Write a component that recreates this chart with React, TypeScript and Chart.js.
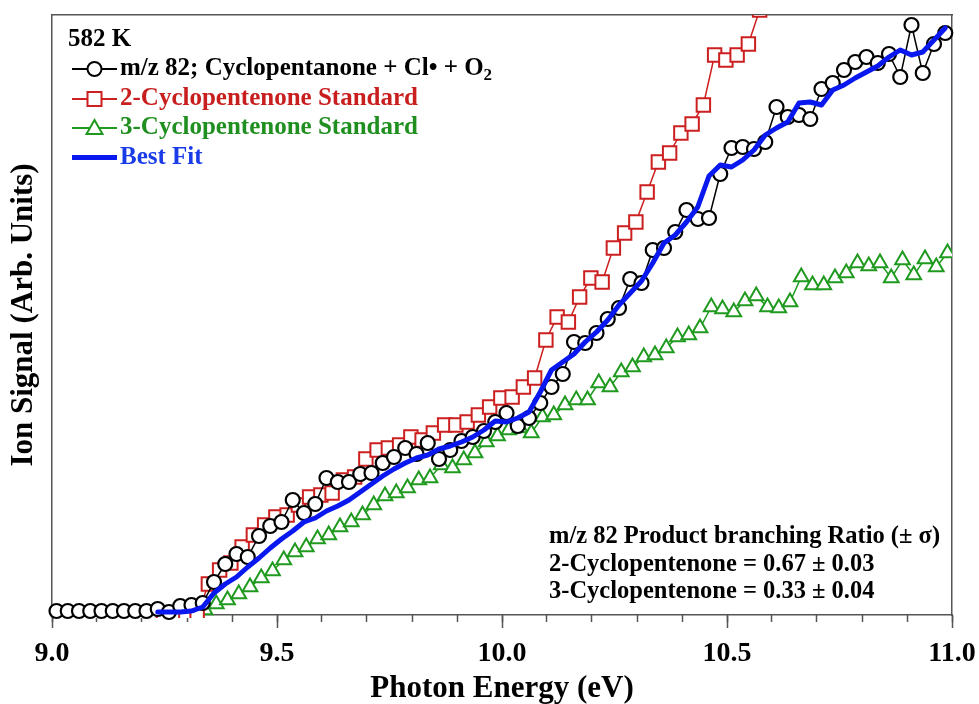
import React, { useEffect, useRef } from 'react';
import { Chart, registerables } from 'chart.js';

Chart.register(...registerables);

const FONT = '"Liberation Serif", "Times New Roman", serif';

// Photon energy grid (eV)
const ENERGY_STEP = 0.025;
const MZ82_START = 9.01;
const CYC2_START = 9.0225;
const CYC3_START = 9.19;
const FIT_START = 9.235;

// m/z 82; Cyclopentanone + Cl + O2
const mz82Signal = [
  7, 7, 7, 7, 7, 7, 7, 7, 7,
  9, 6, 12, 13, 15, 36, 54, 64, 61, 82, 92,
  96, 118, 105, 114, 140, 136, 136, 144, 145, 155,
  161, 170, 164, 175, 159, 168, 177, 181, 187, 196,
  205, 192, 200, 215, 231, 244, 276, 275, 285, 299,
  310, 339, 335, 368, 370, 386, 408, 399, 400, 444,
  470, 471, 469, 476, 511, 501, 503, 499, 529, 535,
  548, 556, 561, 555, 564, 541, 593, 545, 574, 585,
];

// 2-Cyclopentenone standard
const cyc2Signal = [
  2, 2, 2, 2, 2, 2, 2, 2, 2, 2, 2, 2, 2,
  34, 48, 55, 71, 83, 93,
  101, 103, 113, 121, 123, 125, 138, 141, 159, 168,
  170, 173, 181, 178, 185, 193, 193, 196, 203, 211,
  220, 221, 231, 240, 278, 301, 296, 321, 340, 336,
  370, 385, 396, 426, 456, 465, 485, 494, 513, 563,
  558, 563, 574, 608, 643,
];

// 3-Cyclopentenone standard
const cyc3Signal = [
  2, 2, 2, 2, 2,
  4, 8, 14, 18, 24, 31, 40, 47,
  58, 66, 71, 79, 83, 91, 96, 103, 113, 122,
  125, 130, 138, 140, 153, 150, 158, 165, 176, 182,
  188, 190, 185, 201, 203, 213, 218, 218, 235, 231,
  246, 251, 261, 263, 270, 281, 283, 290, 311, 309,
  306, 317, 322, 311, 310, 316, 341, 333, 333, 340,
  345, 355, 352, 355, 340, 358, 343, 359, 351, 365,
];

// Best fit
const bestFitSignal = [
  6, 6, 6, 7, 11, 25, 34, 41, 51, 60, 70,
  79, 87, 96, 100, 107, 112, 118, 126, 134, 142,
  149, 155, 160, 163, 169, 172, 176, 181, 188, 197,
  196, 200, 206, 226, 248, 256, 264, 276, 286, 298,
  313, 325, 337, 355, 375, 383, 396, 411, 442, 453,
  451, 458, 468, 483, 490, 496, 515, 516, 513, 528,
  533, 540, 546, 552, 561, 568, 563, 566, 578, 590,
];

const majorTicks = [9.0, 9.5, 10.0, 10.5, 11.0];
const minorTicks = [
  9.0, 9.1, 9.2, 9.3, 9.4, 9.5, 9.6, 9.7, 9.8, 9.9, 10.0,
  10.1, 10.2, 10.3, 10.4, 10.5, 10.6, 10.7, 10.8, 10.9, 11.0,
];

const legendTitle = '582 K';
const seriesLabels = [
  'm/z 82; Cyclopentanone + Cl• + O',
  '2-Cyclopentenone Standard',
  '3-Cyclopentenone Standard',
  'Best Fit',
];
const ratioLines = [
  'm/z 82 Product branching Ratio (± σ)',
  '2-Cyclopentenone = 0.67 ± 0.03',
  '3-Cyclopentenone = 0.33 ± 0.04',
];

const COLORS = {
  black: '#000000',
  red: '#cc1f1f',
  green: '#1f9a1f',
  blue: '#0a18f0',
  redText: '#c81e1e',
  greenText: '#1f8f1f',
  blueText: '#1a3ce8',
  frame: '#555555',
};

const toPoints = (start: number, values: number[]) =>
  values.map((y, i) => ({ x: +(start + i * ENERGY_STEP).toFixed(4), y }));

const textPlugin = {
  id: 'textOverlay',
  afterDraw(chart: any) {
    const ctx: CanvasRenderingContext2D = chart.ctx;
    ctx.save();
    ctx.textBaseline = 'middle';
    ctx.textAlign = 'left';
    const f = `bold 25px ${FONT}`;
    ctx.font = f;
    ctx.fillStyle = COLORS.black;
    ctx.fillText(legendTitle, 68, 40);

    const rowY = [69, 99, 128, 157.5];
    const lineColors = [COLORS.black, COLORS.red, COLORS.green, COLORS.blue];
    const textColors = [COLORS.black, COLORS.redText, COLORS.greenText, COLORS.blueText];
    const x0 = 72, x1 = 117, xc = 94.5;
    rowY.forEach((y, i) => {
      ctx.strokeStyle = lineColors[i];
      ctx.lineWidth = i === 3 ? 5 : 2;
      ctx.beginPath();
      ctx.moveTo(x0, y);
      ctx.lineTo(x1, y);
      ctx.stroke();
      ctx.fillStyle = '#ffffff';
      ctx.lineWidth = 2;
      if (i === 0) {
        ctx.beginPath();
        ctx.arc(xc, y, 7, 0, Math.PI * 2);
        ctx.fill();
        ctx.stroke();
      } else if (i === 1) {
        ctx.beginPath();
        ctx.rect(xc - 7, y - 7, 14, 14);
        ctx.fill();
        ctx.stroke();
      } else if (i === 2) {
        ctx.beginPath();
        ctx.moveTo(xc, y - 8);
        ctx.lineTo(xc + 8, y + 6);
        ctx.lineTo(xc - 8, y + 6);
        ctx.closePath();
        ctx.fill();
        ctx.stroke();
      }
      ctx.font = f;
      ctx.fillStyle = textColors[i];
      ctx.fillText(seriesLabels[i], 120, y);
      if (i === 0) {
        const w = ctx.measureText(seriesLabels[i]).width;
        ctx.font = `bold 17px ${FONT}`;
        ctx.fillText('2', 120 + w, y + 7);
      }
    });

    ctx.font = `bold 24.5px ${FONT}`;
    ctx.fillStyle = COLORS.black;
    const ry = [537, 565, 592];
    ratioLines.forEach((t, i) => ctx.fillText(t, 549, ry[i]));
    ctx.restore();
  },
};

export default function App() {
  const ref = useRef<HTMLCanvasElement | null>(null);
  useEffect(() => {
    if (!ref.current) return;
    const markerClip = { left: 0, top: 0, right: 0, bottom: 3 };
    const chart = new Chart(ref.current, {
      type: 'line',
      data: {
        datasets: [
          {
            label: seriesLabels[0],
            data: toPoints(MZ82_START, mz82Signal),
            borderColor: COLORS.black,
            borderWidth: 1.5,
            pointStyle: 'circle',
            pointRadius: 7,
            pointBorderWidth: 2.2,
            pointBackgroundColor: '#ffffff',
            pointBorderColor: COLORS.black,
            tension: 0,
            order: 1,
            clip: 10,
          } as any,
          {
            label: seriesLabels[1],
            data: toPoints(CYC2_START, cyc2Signal),
            borderColor: COLORS.red,
            borderWidth: 1.5,
            pointStyle: 'rect',
            pointRadius: 9.5,
            pointBorderWidth: 2,
            pointBackgroundColor: '#ffffff',
            pointBorderColor: COLORS.red,
            tension: 0,
            order: 2,
            clip: markerClip,
          } as any,
          {
            label: seriesLabels[2],
            data: toPoints(CYC3_START, cyc3Signal),
            borderColor: COLORS.green,
            borderWidth: 1.5,
            pointStyle: 'triangle',
            pointRadius: 8.5,
            pointBorderWidth: 2,
            pointBackgroundColor: '#ffffff',
            pointBorderColor: COLORS.green,
            tension: 0,
            order: 3,
            clip: markerClip,
          } as any,
          {
            label: seriesLabels[3],
            data: toPoints(FIT_START, bestFitSignal),
            borderColor: COLORS.blue,
            borderWidth: 5,
            pointRadius: 0,
            borderJoinStyle: 'round',
            borderCapStyle: 'round',
            tension: 0,
            order: 0,
          } as any,
        ],
      },
      options: {
        responsive: false,
        animation: false,
        layout: { padding: { left: 0, top: 15, right: 27, bottom: 0 } },
        plugins: { legend: { display: false }, tooltip: { enabled: false } },
        scales: {
          x: {
            type: 'linear',
            position: 'bottom',
            min: 9,
            max: 11,
            weight: 1,
            afterBuildTicks: (s: any) => { s.ticks = majorTicks.map((v) => ({ value: v })); },
            ticks: {
              callback: (v: any) => Number(v).toFixed(1),
              font: { family: FONT, size: 28, weight: 'bold' },
              color: COLORS.black,
              padding: 9,
              maxRotation: 0,
              autoSkip: false,
            },
            grid: { drawOnChartArea: false, tickLength: 13, tickColor: COLORS.frame, tickWidth: 1.5 },
            border: { display: true, color: COLORS.frame, width: 1.5 },
            title: {
              display: true,
              text: 'Photon Energy (eV)',
              font: { family: FONT, size: 31, weight: 'bold', lineHeight: 1 },
              color: COLORS.black,
              padding: { top: 0, bottom: 0 },
            },
            afterFit: (s: any) => { s.height = 89; s.paddingLeft = 0; s.paddingRight = 0; },
          },
          xMinor: {
            type: 'linear',
            position: 'bottom',
            min: 9,
            max: 11,
            weight: 0,
            afterBuildTicks: (s: any) => { s.ticks = minorTicks.map((v) => ({ value: v })); },
            ticks: { display: false },
            grid: { drawOnChartArea: false, tickLength: 7, tickColor: COLORS.frame, tickWidth: 1.5 },
            border: { display: false },
            afterFit: (s: any) => { s.height = 0; s.paddingLeft = 0; s.paddingRight = 0; },
          },
          xTop: {
            type: 'linear',
            position: 'top',
            min: 9,
            max: 11,
            ticks: { display: false },
            grid: { display: false },
            border: { display: true, color: COLORS.frame, width: 1.5 },
            afterFit: (s: any) => { s.height = 0; s.paddingLeft = 0; s.paddingRight = 0; },
          },
          y: {
            type: 'linear',
            position: 'left',
            min: 3,
            max: 603,
            ticks: { display: false },
            grid: { display: false },
            border: { display: true, color: COLORS.frame, width: 1.5 },
            title: {
              display: true,
              text: 'Ion Signal (Arb. Units)',
              font: { family: FONT, size: 31, weight: 'bold', lineHeight: 1 },
              color: COLORS.black,
              padding: { top: 8, bottom: 0 },
            },
            afterFit: (s: any) => { s.width = 52; },
          },
          yRight: {
            type: 'linear',
            position: 'right',
            min: 3,
            max: 603,
            ticks: { display: false },
            grid: { display: false },
            border: { display: true, color: COLORS.frame, width: 1.5 },
            afterFit: (s: any) => { s.width = 0; },
          },
        },
      } as any,
      plugins: [textPlugin],
    });
    return () => chart.destroy();
  }, []);

  return (
    <div style={{ position: 'absolute', left: 0, top: 0, width: 979, height: 704, background: '#ffffff' }}>
      <canvas ref={ref} width={979} height={704} />
    </div>
  );
}
